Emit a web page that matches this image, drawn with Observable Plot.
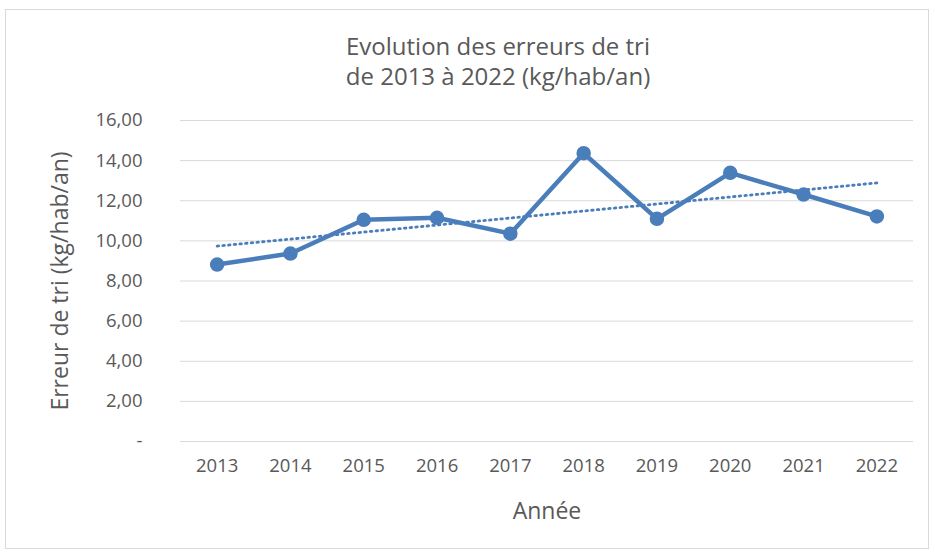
<!DOCTYPE html>
<html><head><meta charset="utf-8">
<script src="https://cdn.jsdelivr.net/npm/d3@7"></script>
<script src="https://cdn.jsdelivr.net/npm/@observablehq/plot@0.6"></script>
<style>
body{margin:0;background:#fff;font-family:"Open Sans",sans-serif;}
#frame{position:absolute;left:5px;top:9px;width:924px;height:540px;border:1px solid #d9d9d9;box-sizing:border-box;}
#title{position:absolute;left:0;top:31px;width:996px;text-align:center;color:#595959;font-size:24px;line-height:30px;}
#chart{position:absolute;left:0;top:100px;}
</style></head>
<body>
<div id="frame"></div>
<div id="title">Evolution des erreurs de tri<br>de 2013 à 2022 (kg/hab/an)</div>
<div id="chart"></div>
<script>
const years = [2013, 2014, 2015, 2016, 2017, 2018, 2019, 2020, 2021, 2022];
const values = [8.82, 9.37, 11.05, 11.15, 10.36, 14.37, 11.10, 13.39, 12.31, 11.22];
const yTicks = [0, 2, 4, 6, 8, 10, 12, 14, 16];
const data = years.map((y, i) => ({year: y, value: values[i]}));
const blue = "#4a7ebb";
const grey = "#595959";
const fmt = v => v === 0 ? "-" : v.toFixed(2).replace(".", ",");
const plot = Plot.plot({
  width: 935, height: 450,
  marginLeft: 180, marginRight: 22, marginTop: 20, marginBottom: 109,
  style: {fontFamily: "'Open Sans', sans-serif", fontSize: "18.5px", color: grey, background: "transparent"},
  x: {domain: [2012.5, 2022.5], ticks: years, tickFormat: d => String(d), tickSize: 0, tickPadding: 17,
      label: "Année", labelAnchor: "center", labelArrow: "none", labelOffset: 77},
  y: {domain: [0, 16], ticks: yTicks, tickFormat: fmt, tickSize: 0, tickPadding: 38,
      label: "Erreur de tri (kg/hab/an)", labelAnchor: "center", labelArrow: "none", labelOffset: 129},
  marks: [
    Plot.gridY(yTicks, {stroke: "#d9d9d9", strokeOpacity: 1, strokeWidth: 1}),
    Plot.linearRegressionY(data, {x: "year", y: "value", ci: 0, stroke: blue, strokeWidth: 2.8, strokeDasharray: "1.5,4.2", strokeLinecap: "round"}),
    Plot.line(data, {x: "year", y: "value", stroke: blue, strokeWidth: 4.5}),
    Plot.dot(data, {x: "year", y: "value", r: 6.5, fill: blue, stroke: blue})
  ]
});
plot.querySelectorAll("g[aria-label='x-axis label'] text, g[aria-label='y-axis label'] text").forEach(t => t.style.fontSize = "23px");
document.getElementById("chart").appendChild(plot);
</script>
</body></html>
